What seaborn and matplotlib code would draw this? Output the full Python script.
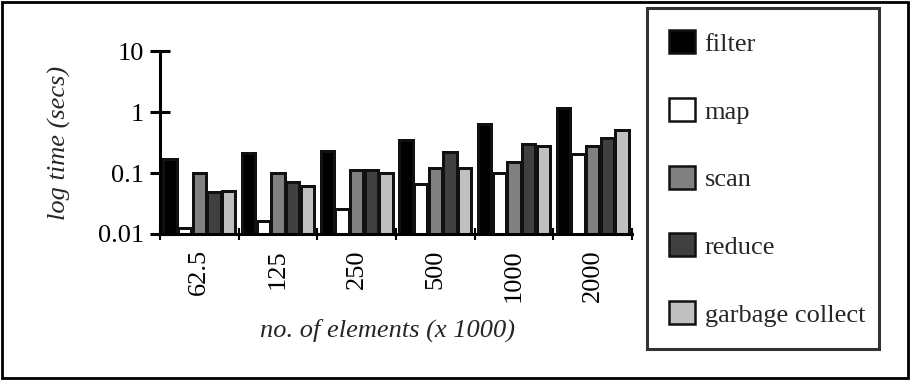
import matplotlib
matplotlib.use("Agg")
import matplotlib.pyplot as plt
from matplotlib.patches import Patch, Rectangle
import seaborn as sns
import pandas as pd

sizes = ["62.5", "125", "250", "500", "1000", "2000"]
series = ["filter", "map", "scan", "reduce", "garbage collect"]
filter_t = [0.17, 0.21, 0.23, 0.35, 0.63, 1.15]
map_t = [0.0125, 0.0165, 0.026, 0.066, 0.10, 0.205]
scan_t = [0.10, 0.10, 0.112, 0.122, 0.15, 0.276]
reduce_t = [0.049, 0.072, 0.112, 0.22, 0.30, 0.38]
gc_t = [0.05, 0.061, 0.10, 0.122, 0.276, 0.50]
y_ticks = [0.01, 0.1, 1, 10]
y_tick_labels = ["0.01", "0.1", "1", "10"]

colors = ["#000000", "#ffffff", "#808080", "#404040", "#c0c0c0"]

rows = []
for name, vals in zip(series, [filter_t, map_t, scan_t, reduce_t, gc_t]):
    for s, v in zip(sizes, vals):
        rows.append({"size": s, "series": name, "time": v})
df = pd.DataFrame(rows)

sns.set_style("white")
plt.rcParams["font.family"] = ["Liberation Serif", "DejaVu Serif"]

fig = plt.figure(figsize=(9.1, 3.8), dpi=100)
ax = fig.add_axes([160 / 910, 1 - 234 / 380, (632 - 160) / 910, (234 - 51) / 380])
ax.set_yscale("log")

sns.barplot(data=df, x="size", y="time", hue="series", order=sizes,
            hue_order=series, palette=colors, width=0.93, gap=0.1,
            edgecolor="#111111", linewidth=1.8, saturation=1,
            errorbar=None, legend=False, ax=ax)

y_floor = 0.01
ax.set_ylim(y_floor, 10)
# bars on a log axis: start them at the axis floor so their outlines are drawn
for p in ax.patches:
    top = p.get_y() + p.get_height()
    p.set_y(y_floor)
    p.set_height(top - y_floor)
    p.set_edgecolor("#111111")
    p.set_linewidth(1.8)
    p.set_antialiased(False)

ax.set_xlim(-0.5, 5.5)
ax.set_yticks(y_ticks, labels=y_tick_labels)
ax.yaxis.set_minor_locator(matplotlib.ticker.NullLocator())
ax.set_xticks([i - 0.5 for i in range(len(sizes) + 1)], labels=[""] * (len(sizes) + 1))
ax.set_xticks(range(len(sizes)), labels=sizes, minor=True)

for sp in ["top", "right"]:
    ax.spines[sp].set_visible(False)
for sp in ["left", "bottom"]:
    ax.spines[sp].set_linewidth(2.2)
    ax.spines[sp].set_color("black")
    ax.spines[sp].set_zorder(5)

ax.tick_params(axis="y", which="major", left=True, direction="inout", length=14.4,
               width=2.2, pad=4.5, labelsize=19, colors="black")
ax.tick_params(axis="x", which="major", bottom=True, direction="inout", length=8.5,
               width=1.5, colors="black")
ax.tick_params(axis="x", which="minor", bottom=True, length=0, pad=11, labelsize=19,
               labelrotation=90, colors="black")
for t in ax.get_xticklabels(minor=True):
    t.set_verticalalignment("top")

ax.set_ylabel("log time (secs)", fontsize=19, style="italic")
ax.yaxis.set_label_coords((71 - 160) / 472, 0.5)
ax.set_xlabel("no. of elements (x 1000)", fontsize=19, style="italic")
ax.xaxis.set_label_coords((387 - 160) / 472, -(330 - 234) / 183)
ax.xaxis.label.set_verticalalignment("center")

handles = [Patch(facecolor=c, edgecolor="#111111", linewidth=1.8) for c in colors]
leg = fig.legend(handles, series, loc="upper left",
                 bbox_to_anchor=(647 / 910, 1 - 8 / 380, (879 - 647) / 910, 0.0),
                 bbox_transform=fig.transFigure, mode="expand", borderaxespad=0,
                 fontsize=19, handlelength=0.95, handleheight=0.95,
                 handletextpad=0.38, labelspacing=1.6, borderpad=0.85,
                 frameon=True, fancybox=False, edgecolor="black")
leg.get_frame().set_linewidth(2.2)

fig.add_artist(Rectangle((2 / 910, 2 / 380), 906 / 910, 376 / 380,
                         transform=fig.transFigure, fill=False,
                         edgecolor="black", linewidth=2.0))

fig.savefig("out.png", dpi=100)
